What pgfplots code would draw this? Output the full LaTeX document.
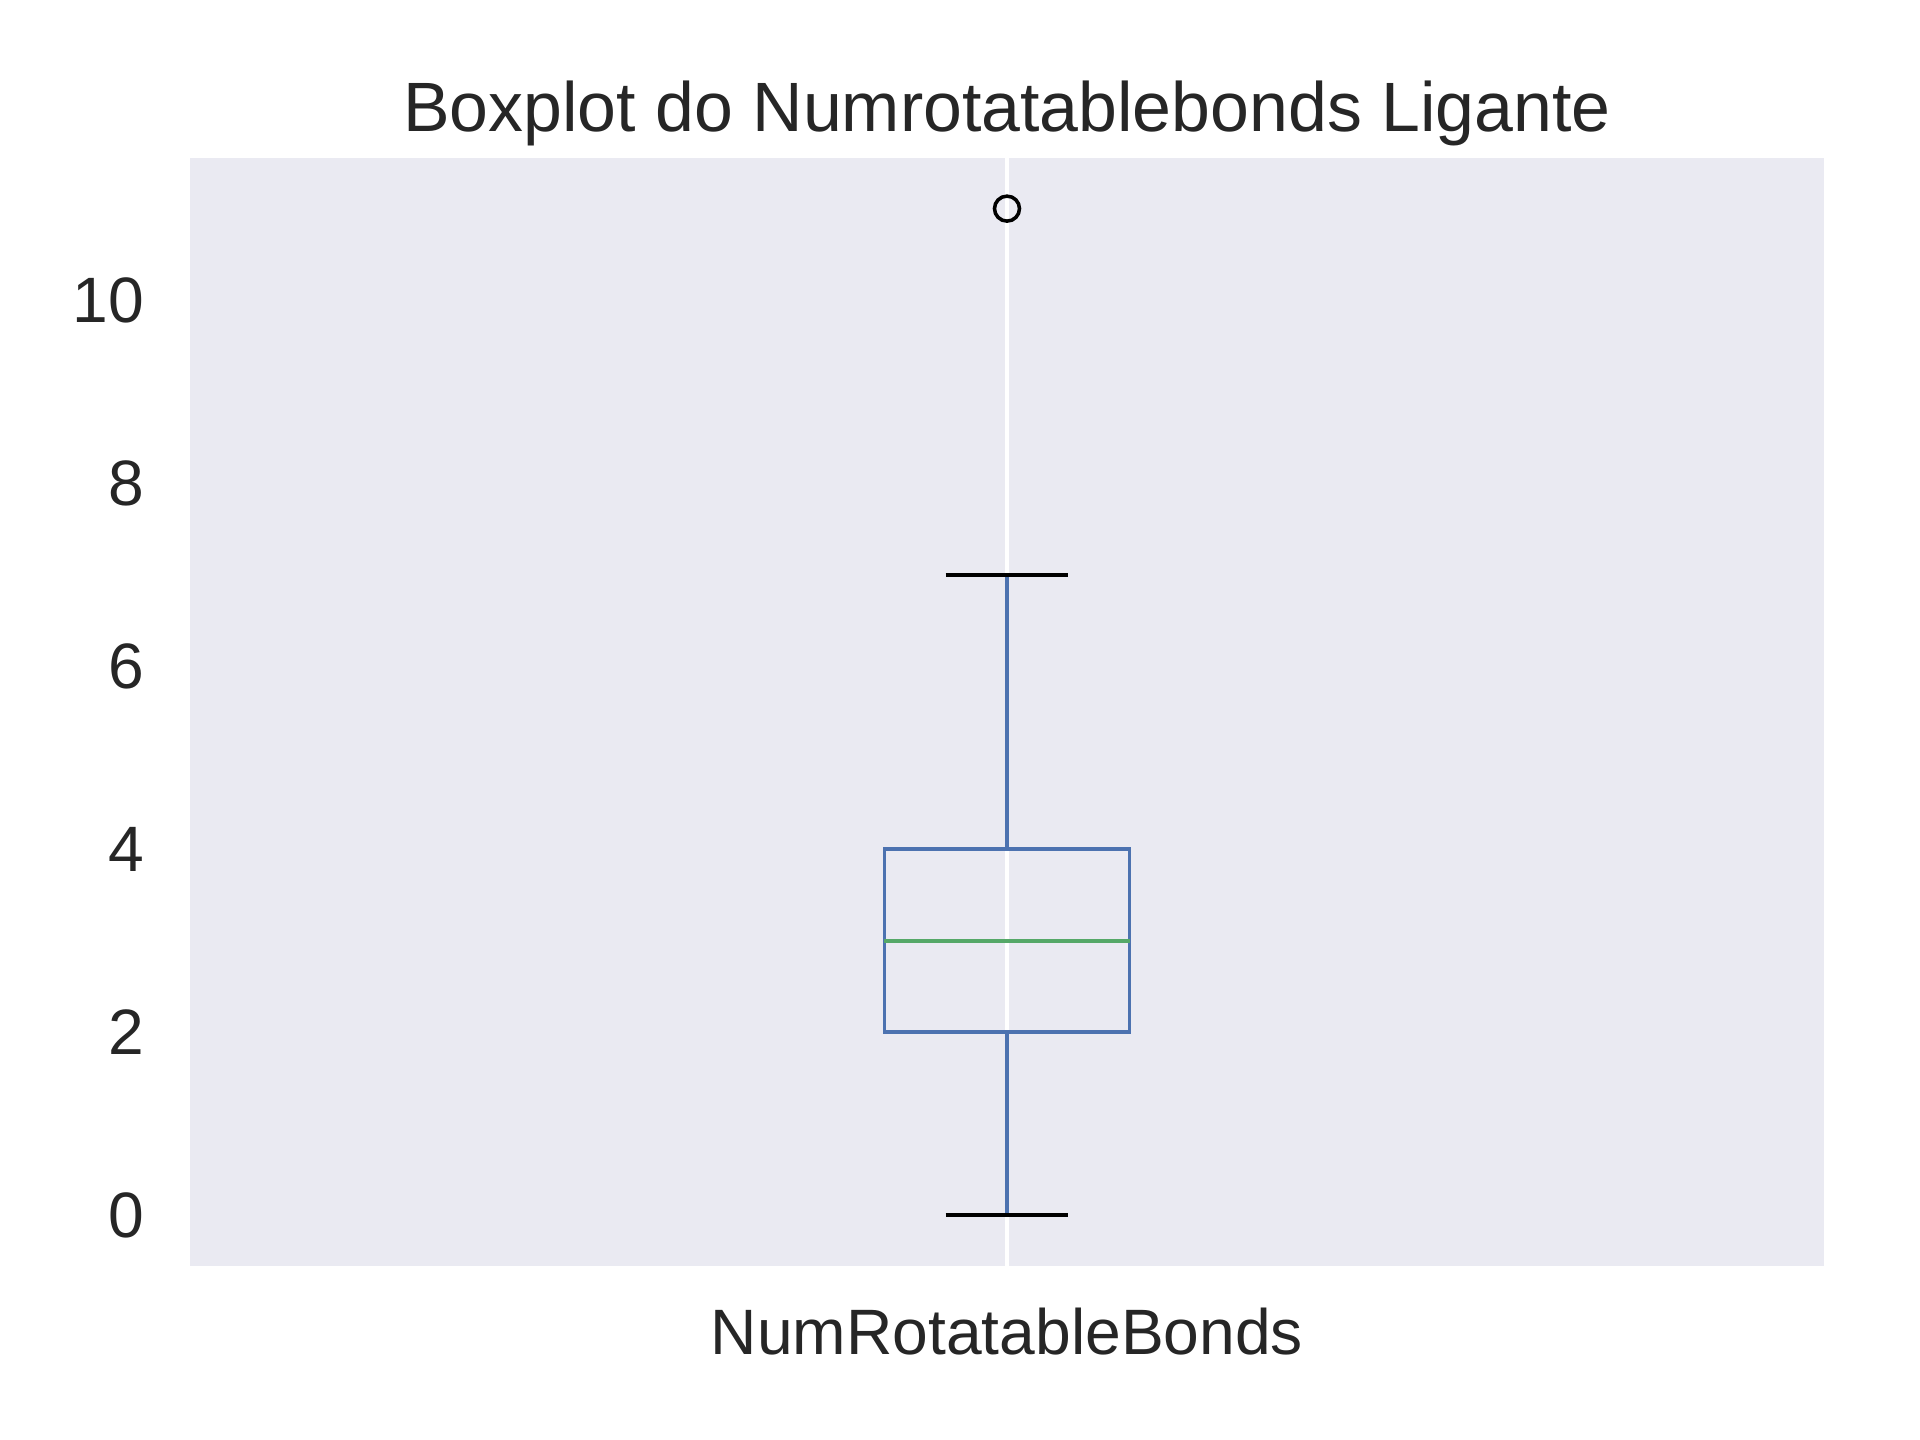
\documentclass[border=0pt]{standalone}
\usepackage{pgfplots}
\pgfplotsset{compat=1.18}
\usepackage{fontspec}
\setmainfont{Liberation Sans}
\definecolor{bgc}{HTML}{EAEAF2}
\definecolor{boxblue}{HTML}{4C72B0}
\definecolor{medgreen}{HTML}{55A868}
\definecolor{txt}{HTML}{262626}
\begin{document}
\begin{tikzpicture}
\begin{axis}[
  scale only axis,
  width=392.16pt, height=265.78pt,
  xmin=0.5, xmax=1.5,
  ymin=-0.55, ymax=11.55,
  clip=false,
  axis background/.style={fill=bgc},
  axis line style={draw=none},
  major tick length=0pt,
  xtick={1}, xticklabels={NumRotatableBonds},
  ytick={0,2,4,6,8,10},
  xmajorgrids=true, ymajorgrids=false,
  major grid style={white, line width=0.96pt},
  /pgf/number format/assume math mode=true,
  ticklabel style={font=\fontsize{15.4pt}{18pt}\selectfont, text=txt, inner sep=0pt},
  yticklabel style={xshift=-10.8pt},
  xticklabel style={yshift=-9.84pt},
  title={Boxplot do Numrotatablebonds Ligante},
  every axis title shift=0pt,
  title style={at={(0.5,1)}, anchor=base, yshift=6.5pt, inner sep=0pt,
    font=\fontsize{16.76pt}{20pt}\selectfont, text=txt},
]
% whiskers
\addplot[boxblue, line width=0.9pt] coordinates {(1,0) (1,2)};
\addplot[boxblue, line width=0.9pt] coordinates {(1,4) (1,7)};
% caps
\addplot[black, line width=0.9pt] coordinates {(0.9625,0) (1.0375,0)};
\addplot[black, line width=0.9pt] coordinates {(0.9625,7) (1.0375,7)};
% box
\addplot[boxblue, line width=0.9pt, line join=miter] coordinates {(0.925,2) (1.075,2) (1.075,4) (0.925,4) (0.925,2) (1.075,2)};
% median
\addplot[medgreen, line width=0.9pt] coordinates {(0.925,3) (1.075,3)};
% outlier
\addplot[only marks, mark=o, mark size=3pt, mark options={black, line width=0.85pt}] coordinates {(1,11)};
\path[draw=none] ([xshift=-45.6pt,yshift=-41.83pt]rel axis cs:0,0) rectangle ([xshift=23.04pt,yshift=37.99pt]rel axis cs:1,1);
\end{axis}
\end{tikzpicture}
\end{document}
